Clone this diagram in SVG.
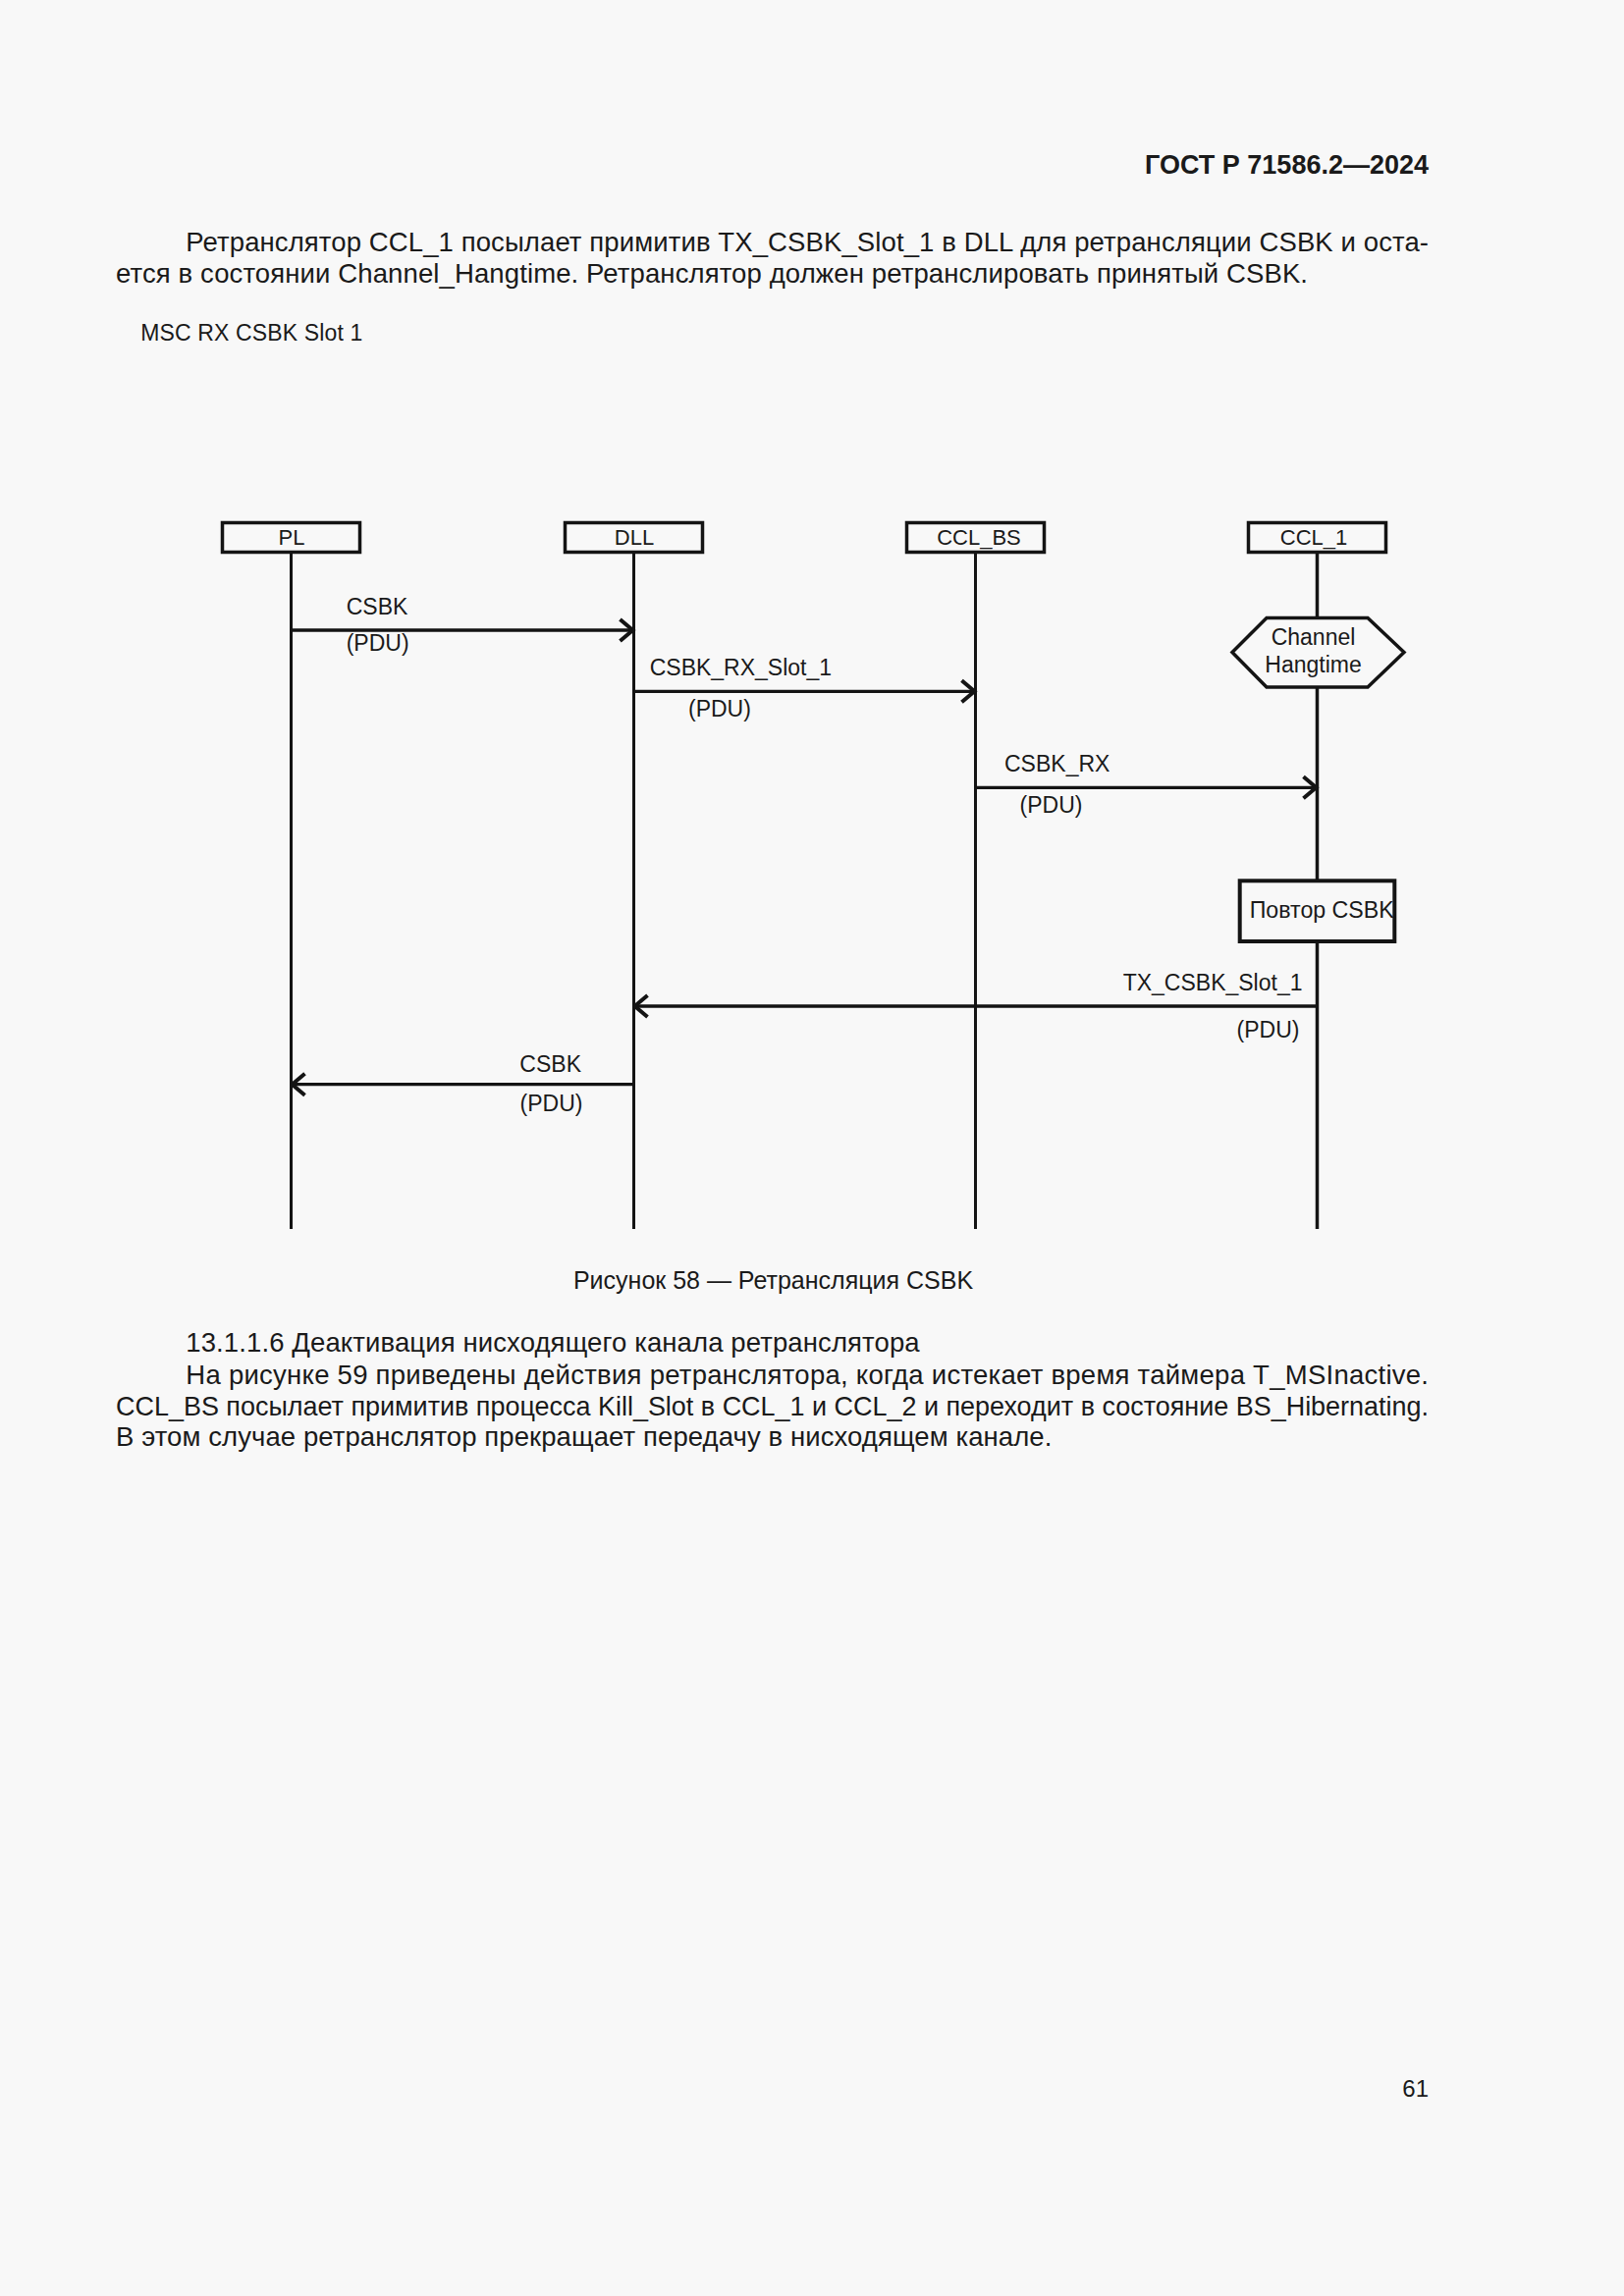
<svg xmlns="http://www.w3.org/2000/svg" width="1654" height="2339" viewBox="0 0 1654 2339">
<style>
text{font-family:"Liberation Sans",Arial,sans-serif;fill:#1a1a1a}
.body{font-size:27.5px}
.lbl{font-size:23px}
.box{fill:#f8f8f8;stroke:#141414;stroke-width:3.5}
.life{stroke:#141414;stroke-width:3;fill:none}
.msg{stroke:#141414;stroke-width:3.3;fill:none}
</style>
<defs>
<marker id="ah" viewBox="-18 -14 20 28" markerWidth="20" markerHeight="28" refX="0" refY="0" markerUnits="userSpaceOnUse" orient="auto">
<path d="M-14,-11 L-1,0 L-14,11" fill="none" stroke="#141414" stroke-width="4"/>
</marker>
</defs>
<rect x="0" y="0" width="1654" height="2339" fill="#f8f8f8"/>
<text x="1455" y="176.5" text-anchor="end" style="font-size:27px;font-weight:bold">ГОСТ Р 71586.2—2024</text>
<text class="body" x="189.3" y="256" textLength="1265.7" lengthAdjust="spacing">Ретранслятор CCL_1 посылает примитив TX_CSBK_Slot_1 в DLL для ретрансляции CSBK и оста-</text>
<text class="body" x="118" y="287.5" textLength="1214" lengthAdjust="spacing">ется в состоянии Channel_Hangtime. Ретранслятор должен ретранслировать принятый CSBK.</text>
<text x="143.3" y="346.5" style="font-size:23px" textLength="226" lengthAdjust="spacing">MSC RX CSBK Slot 1</text>

<g id="lifelines">
<line class="life" x1="296.5" y1="564" x2="296.5" y2="1252"/>
<line class="life" x1="645.5" y1="564" x2="645.5" y2="1252"/>
<line class="life" x1="993.5" y1="564" x2="993.5" y2="1252"/>
<line class="life" x1="1341.5" y1="564" x2="1341.5" y2="1252" style="stroke-width:3.5"/>
</g>

<g id="node-PL">
<rect class="box" x="226.5" y="532.5" width="140" height="30"/>
<text class="lbl" x="297" y="554.5" text-anchor="middle" style="font-size:22px">PL</text>
</g>
<g id="node-DLL">
<rect class="box" x="575.5" y="532.5" width="140" height="30"/>
<text class="lbl" x="646" y="554.5" text-anchor="middle" style="font-size:22px">DLL</text>
</g>
<g id="node-CCL_BS">
<rect class="box" x="923.5" y="532.5" width="140" height="30"/>
<text class="lbl" x="997" y="554.5" text-anchor="middle" style="font-size:22px">CCL_BS</text>
</g>
<g id="node-CCL_1">
<rect class="box" x="1271.5" y="532.5" width="140" height="30"/>
<text class="lbl" x="1338" y="554.5" text-anchor="middle" style="font-size:22px">CCL_1</text>
</g>

<g id="state-ChannelHangtime">
<polygon class="box" points="1255,664.5 1290,629.5 1393,629.5 1430,664.5 1393,700 1290,700"/>
<text class="lbl" x="1337.5" y="656.5" text-anchor="middle">Channel</text>
<text class="lbl" x="1337.5" y="685" text-anchor="middle">Hangtime</text>
</g>

<g id="action-PovtorCSBK">
<rect class="box" x="1262.7" y="897.3" width="157.6" height="61.7" style="stroke-width:4"/>
<text class="lbl" x="1272.7" y="935" textLength="147" lengthAdjust="spacingAndGlyphs">Повтор CSBK</text>
</g>

<g id="connectors">
<line class="msg" x1="296.5" y1="642" x2="645.5" y2="642" marker-end="url(#ah)"/>
<line class="msg" x1="645.5" y1="704.3" x2="993.5" y2="704.3" marker-end="url(#ah)"/>
<line class="msg" x1="993.5" y1="802.3" x2="1341.5" y2="802.3" marker-end="url(#ah)"/>
<line class="msg" x1="1341.5" y1="1025" x2="645.5" y2="1025" marker-end="url(#ah)"/>
<line class="msg" x1="645.5" y1="1104.7" x2="296.5" y2="1104.7" marker-end="url(#ah)"/>
<text class="lbl" x="352.7" y="626">CSBK</text>
<text class="lbl" x="352.7" y="663">(PDU)</text>
<text class="lbl" x="661.7" y="688">CSBK_RX_Slot_1</text>
<text class="lbl" x="701" y="730">(PDU)</text>
<text class="lbl" x="1023" y="786">CSBK_RX</text>
<text class="lbl" x="1038.6" y="828">(PDU)</text>
<text class="lbl" x="1326.5" y="1009.3" text-anchor="end">TX_CSBK_Slot_1</text>
<text class="lbl" x="1323.5" y="1056.7" text-anchor="end">(PDU)</text>
<text class="lbl" x="592" y="1092" text-anchor="end">CSBK</text>
<text class="lbl" x="593.5" y="1131.7" text-anchor="end">(PDU)</text>
</g>

<text x="787.5" y="1313" text-anchor="middle" style="font-size:25px">Рисунок 58 — Ретрансляция CSBK</text>
<text class="body" x="189.3" y="1376.5" textLength="747.3" lengthAdjust="spacing">13.1.1.6 Деактивация нисходящего канала ретранслятора</text>
<text class="body" x="189.3" y="1409.5" textLength="1265.7" lengthAdjust="spacing">На рисунке 59 приведены действия ретранслятора, когда истекает время таймера T_MSInactive.</text>
<text class="body" x="118" y="1441.5" textLength="1337" lengthAdjust="spacingAndGlyphs">CCL_BS посылает примитив процесса Kill_Slot в CCL_1 и CCL_2 и переходит в состояние BS_Hibernating.</text>
<text class="body" x="118" y="1473.3" textLength="953.4" lengthAdjust="spacing">В этом случае ретранслятор прекращает передачу в нисходящем канале.</text>
<text x="1455" y="2135.5" text-anchor="end" style="font-size:24px">61</text>
</svg>
